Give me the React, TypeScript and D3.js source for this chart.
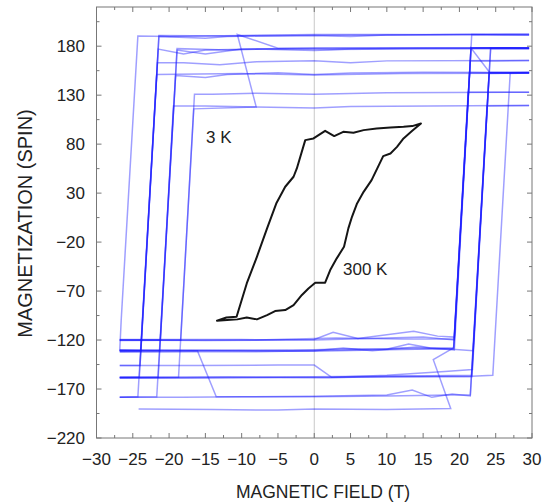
import React, { useEffect, useRef } from "react";
import * as d3 from "d3";

type Pt = [number, number];

// tick labels
const xTickValues = [-30, -25, -20, -15, -10, -5, 0, 5, 10, 15, 20, 25, 30];
const yTickValues = [-220, -170, -120, -70, -20, 30, 80, 130, 180];

// blue sweeps, field going up (from -27 T to +30 T)
const up1: Pt[] = [[-26.8, -120], [-15, -120.5], [-5, -120], [0, -119.5], [2.6, -112], [6, -118.5], [13.7, -111], [17, -116], [19.3, -117], [21.7, 192], [26, 191.5], [29.6, 191.5]];
const up2: Pt[] = [[-26.8, -131], [-20, -131], [-10, -130.5], [0, -130], [5, -129], [10, -129.5], [13, -124], [16, -128], [19.2, -128], [21.6, 178], [25, 178.5], [29.6, 178]];
const up3: Pt[] = [[-26.8, -132.5], [-16, -132], [-8, -132], [0, -131], [4, -128], [8, -131], [14, -127], [19.3, -130], [21.6, 178], [24.2, 153], [27, 153], [29.6, 153]];
const up4: Pt[] = [[-26.8, -158.5], [-18, -158.5], [-8, -158], [0, -157.5], [8, -157], [16, -156.5], [21.7, -156], [24.3, 178], [27, 178.5], [29.6, 178.5]];
const up5: Pt[] = [[-26.8, -146], [-16, -146], [-5, -145.5], [0, -145.5], [2.4, -158], [10, -156], [18, -152], [21.8, -150], [24.1, 153], [27, 153], [29.6, 153.5]];
const up6: Pt[] = [[-26.8, -178.5], [-18, -178.5], [-10, -178], [0, -177.5], [10, -176], [13.5, -171], [16.2, -178.5], [19, -175], [21.5, -177], [24.1, 152], [29.6, 152.5]];
const up7: Pt[] = [[-26.8, -159], [-10, -158.5], [5, -158], [15, -157.5], [21.7, -157], [24.6, -156], [27, 153], [29.6, 153]];
const up8: Pt[] = [[-24.2, -190.5], [-14, -191], [-5, -191.5], [0, -190.5], [10, -191], [18.8, -190], [16.4, -140], [19.2, -128], [21.2, 133], [29.6, 133]];
const up9: Pt[] = [[-26.8, -130.5], [-12, -131], [0, -131.5], [10, -130], [18, -129], [21.9, -131], [23.8, 119], [29.6, 119.5]];
const up10: Pt[] = [[-26.8, -119.5], [-10, -119.5], [0, -120], [10, -118], [15, -117], [19.3, -120], [21.5, 165], [25, 165], [29.6, 165.5]];
const up11: Pt[] = [[-26.8, -131.5], [-16.1, -131], [-13.5, -178], [0, -178], [10, -177], [18.7, -176], [21.5, -176], [24.1, 153.5], [29.6, 153.5]];
const up12: Pt[] = [[-26.8, -130], [-14, -130.5], [-3, -131], [6, -130], [12, -128.5], [19.2, -129], [21.4, 153], [29.6, 152.5]];
const up13: Pt[] = [[-26.8, -158], [-12, -157.5], [2, -158.5], [12, -157], [21.7, -157.5], [24.3, 177.5], [29.6, 177.5]];
const up14: Pt[] = [[-26.8, -120.5], [-8, -120], [3, -118], [12, -119], [19.3, -119], [21.6, 178.5], [29.6, 178.5]];

// blue sweeps, field going down (from +30 T to -27 T)
const dn1: Pt[] = [[29.6, 192], [20, 192], [10, 191.5], [5, 190], [0, 191], [-5, 190.5], [-12, 190], [-15, 188], [-21.4, 190], [-24.3, -178], [-26.8, -178.5]];
const dn2: Pt[] = [[29.6, 178], [15, 178], [5, 177], [0, 175.5], [-8, 177], [-15, 176], [-18, 172], [-21.5, 177], [-23.9, -131], [-26.8, -131.5]];
const dn3: Pt[] = [[29.6, 178.5], [10, 178], [0, 178], [-10, 177], [-15, 172], [-18.9, 176], [-21.5, -158], [-26.8, -158]];
const dn4: Pt[] = [[29.6, 153], [15, 153.5], [5, 152.5], [0, 151], [-5, 153], [-12, 151], [-15, 148], [-19.1, 150], [-21.7, -178], [-26.8, -178.5]];
const dn5: Pt[] = [[29.6, 191.5], [10, 192], [0, 192], [-10, 191], [-20, 190], [-24.3, 190.5], [-26.6, -100], [-26.8, -131]];
const dn6: Pt[] = [[29.6, 133], [10, 132.5], [0, 131], [-8, 132], [-14, 131], [-16.5, 131], [-18.4, -120], [-26.8, -120]];
const dn7: Pt[] = [[29.6, 119.5], [5, 118.5], [0, 117], [-8, 118], [-16.6, 116], [-18.7, -158], [-26.8, -158.5]];
const dn8: Pt[] = [[29.6, 165.5], [10, 165], [5, 163], [0, 165], [-8, 164], [-13, 161], [-18, 163], [-21.6, 163], [-24.0, -146], [-26.8, -146]];
const dn9: Pt[] = [[29.6, 178], [10, 178.5], [-5, 178], [-10.6, 192], [-8, 118], [-15, 119], [-19.4, 119], [-21.2, -120], [-26.8, -120]];
const dn10: Pt[] = [[29.6, 177.5], [12, 177], [2, 176.5], [-6, 177.5], [-12, 176], [-18.9, 177.5], [-21.3, -131], [-26.8, -131]];
const dn11: Pt[] = [[29.6, 152.5], [12, 152], [0, 150.5], [-10, 152], [-21.7, 151], [-24.1, -158], [-26.8, -158]];
const dn12: Pt[] = [[29.6, 192.5], [12, 191.5], [-3, 191], [-12, 190.5], [-21.4, 191], [-23.9, -131], [-26.8, -130.5]];

const blueSweeps = [
  up1, up2, up3, up4, up5, up6, up7, up8, up9, up10, up11, up12, up13, up14,
  dn1, dn2, dn3, dn4, dn5, dn6, dn7, dn8, dn9, dn10, dn11, dn12,
];

// black loop (3 K / 300 K)
const blackLoop: Pt[] = [
  [-13.4, -100.3], [-12.1, -97], [-10.7, -96.2], [-9.3, -62.2], [-7.9, -35], [-6.5, -6], [-5.2, 20], [-4.0, 36.5],
  [-2.85, 46.7], [-2.4, 55.2], [-1.24, 84.1], [-0.1, 85.8], [1.5, 93.6], [2.75, 88.2], [4.0, 92.6], [5.4, 91.6],
  [6.8, 94.3], [8.6, 96], [10.5, 97], [12.3, 97.7], [13.5, 98.4], [14.7, 101.1],
  [13.5, 93.6], [12.3, 85.8], [11.4, 77.2], [10.5, 70.5], [9.5, 67.8], [8.9, 58.6], [7.9, 43.3], [6.8, 31.3],
  [5.9, 19.5], [5.2, 5.8], [4.7, -6], [4.1, -24.8], [3.1, -36.6], [2.2, -48.6], [1.5, -61.5], [0.14, -61.5],
  [-0.8, -67.3], [-1.7, -74], [-2.85, -84.3], [-4.0, -89.4], [-5.4, -90.4], [-6.5, -94.5], [-7.9, -98.9],
  [-9.3, -96.9], [-10.6, -98.9], [-12.0, -99.6],
];

const fmt = (v: number) => (v < 0 ? "\u2212" + Math.abs(v) : String(v));

export default function App() {
  const ref = useRef<SVGSVGElement>(null);

  useEffect(() => {
    const svg = d3.select(ref.current);
    svg.selectAll("*").remove();

    const left = 96.5, right = 532, top = 7, bottom = 438;
    const x = d3.scaleLinear().domain([-30, 30]).range([left, right]);
    const y = d3.scaleLinear().domain([-220, 220]).range([bottom, top]);
    const font = "'Liberation Sans', Arial, sans-serif";

    // zero field line
    svg.append("line")
      .attr("x1", x(0)).attr("x2", x(0))
      .attr("y1", top).attr("y2", bottom)
      .attr("stroke", "#c8c8c8").attr("stroke-width", 1);

    const line = d3.line<Pt>().x((d) => x(d[0])).y((d) => y(d[1]));

    svg.append("g")
      .selectAll("path")
      .data(blueSweeps)
      .enter()
      .append("path")
      .attr("d", (d) => line(d))
      .attr("fill", "none")
      .attr("stroke", "#1a1aff")
      .attr("stroke-opacity", 0.42)
      .attr("stroke-width", 1.5);

    svg.append("path")
      .attr("d", line(blackLoop) + "Z")
      .attr("fill", "none")
      .attr("stroke", "#151515")
      .attr("stroke-width", 2)
      .attr("stroke-linejoin", "round");

    // frame
    svg.append("rect")
      .attr("x", left).attr("y", top)
      .attr("width", right - left).attr("height", bottom - top)
      .attr("fill", "none").attr("stroke", "#777").attr("stroke-width", 1);

    // ticks on all four sides, pointing inward
    const tg = svg.append("g").attr("stroke", "#777").attr("stroke-width", 1);
    d3.range(-30, 30.01, 2.5).forEach((v) => {
      const len = v % 5 === 0 ? 5 : 3;
      tg.append("line").attr("x1", x(v)).attr("x2", x(v)).attr("y1", bottom).attr("y2", bottom - len);
      tg.append("line").attr("x1", x(v)).attr("x2", x(v)).attr("y1", top).attr("y2", top + len);
    });
    d3.range(-220, 220.01, 25).forEach((v) => {
      const len = (v + 220) % 50 === 0 ? 5 : 3;
      tg.append("line").attr("y1", y(v)).attr("y2", y(v)).attr("x1", left).attr("x2", left + len);
      tg.append("line").attr("y1", y(v)).attr("y2", y(v)).attr("x1", right).attr("x2", right - len);
    });

    svg.append("g")
      .selectAll("text")
      .data(xTickValues)
      .enter()
      .append("text")
      .attr("x", (d) => x(d))
      .attr("y", 465)
      .attr("text-anchor", "middle")
      .attr("font-family", font)
      .attr("font-size", 17)
      .attr("fill", "#222")
      .text((d) => fmt(d));

    svg.append("g")
      .selectAll("text")
      .data(yTickValues)
      .enter()
      .append("text")
      .attr("x", 85)
      .attr("y", (d) => y(d) + 6)
      .attr("text-anchor", "end")
      .attr("font-family", font)
      .attr("font-size", 17)
      .attr("fill", "#222")
      .text((d) => fmt(d));

    svg.append("text")
      .attr("x", 323).attr("y", 497.5)
      .attr("text-anchor", "middle")
      .attr("font-family", font).attr("font-size", 17.5)
      .attr("fill", "#222")
      .text("MAGNETIC FIELD (T)");

    svg.append("text")
      .attr("transform", "translate(31.5,223.5) rotate(-90)")
      .attr("text-anchor", "middle")
      .attr("font-family", font).attr("font-size", 20)
      .attr("fill", "#222")
      .text("MAGNETIZATION (SPIN)");

    svg.append("text")
      .attr("x", 206).attr("y", 143.3)
      .attr("font-family", font).attr("font-size", 17)
      .attr("fill", "#222")
      .text("3 K");

    svg.append("text")
      .attr("x", 343).attr("y", 275)
      .attr("font-family", font).attr("font-size", 17)
      .attr("fill", "#222")
      .text("300 K");
  }, []);

  return (
    <svg
      ref={ref}
      width={548}
      height={504}
      style={{ position: "absolute", left: 0, top: 0, background: "#fff" }}
    />
  );
}
